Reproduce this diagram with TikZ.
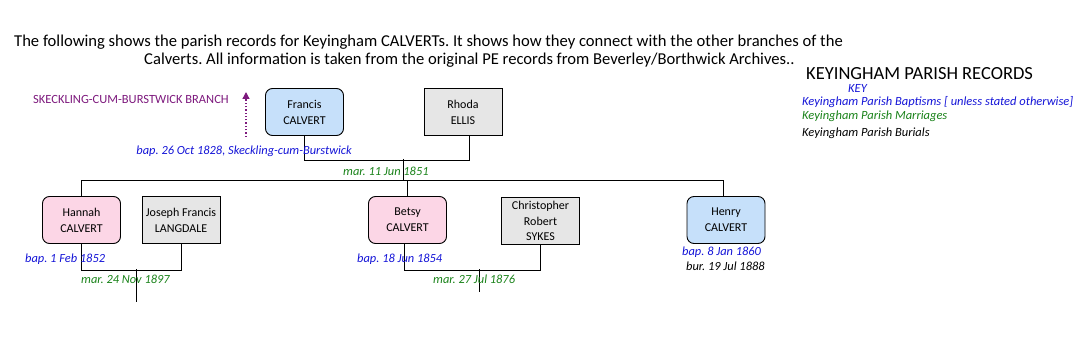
\documentclass[tikz,border=0pt]{standalone}
\usepackage{fontspec}
\setmainfont{Carlito}
\usetikzlibrary{arrows.meta}
\definecolor{bluetxt}{RGB}{20,20,215}
\definecolor{greentxt}{RGB}{25,130,25}
\definecolor{purp}{RGB}{125,25,125}
\definecolor{pinkfill}{RGB}{252,214,230}
\definecolor{bluefill}{RGB}{198,224,250}
\definecolor{grayfill}{RGB}{230,230,230}
\frenchspacing
\begin{document}
\begin{tikzpicture}[x=1pt,y=-1pt,
  person/.style={draw=black, line width=0.9pt, minimum width=78pt, minimum height=47pt,
    align=center, font=\fontsize{12}{16}\selectfont, inner sep=1pt},
  calvm/.style={person, rounded corners=7pt, fill=bluefill},
  calvf/.style={person, rounded corners=7pt, fill=pinkfill},
  spouse/.style={person, fill=grayfill},
  link/.style={draw=black, line width=0.8pt},
  note/.style={inner sep=0pt, font=\fontsize{12.4}{14}\selectfont\itshape},
  bap/.style={note, text=bluetxt},
  mar/.style={note, text=greentxt},
  bur/.style={note, text=black},
  title/.style={inner sep=0pt, font=\fontsize{16.6}{19}\selectfont},
  legend/.style={inner sep=0pt, anchor=west, font=\fontsize{12.5}{14}\selectfont\itshape}
]
\useasboundingbox (0,0) rectangle (1079,358);

% title
\node[title, anchor=west] (t1) at (14,42) {The following shows the parish records for Keyingham CALVERTs. It shows how they connect with the other branches of the};
\node[title, anchor=west] (t2) at (144,60) {Calverts. All information is taken from the original PE records from Beverley/Borthwick Archives..};

% legend
\node[inner sep=0pt, anchor=west, font=\fontsize{18.5}{20}\selectfont] (kt) at (806,74) {KEYINGHAM PARISH RECORDS};
\node[legend, text=bluetxt] (key) at (848,88) {KEY};
\node[legend, text=bluetxt] (lb) at (802,102) {Keyingham Parish Baptisms [ unless stated otherwise]};
\node[legend, text=greentxt] (lm) at (802,116) {Keyingham Parish Marriages};
\node[legend, text=black] (lu) at (802,133) {Keyingham Parish Burials};

% branch
\node[inner sep=0pt, anchor=west, text=purp, font=\fontsize{12.5}{14}\selectfont] (branch) at (33,99) {SKECKLING-CUM-BURSTWICK BRANCH};
\coordinate (arrbot) at (246,137);
\coordinate (arrtop) at (246,92);
\draw[purp, line width=1.3pt, dotted, -{Triangle[width=7pt,length=7pt]}] (arrbot) -- (arrtop);

% people
\node[calvm] (francis) at (304.5,112) {Francis\\CALVERT};
\node[spouse] (rhoda) at (463,112) {Rhoda\\ELLIS};
\node[calvf] (hannah) at (81.5,220) {Hannah\\CALVERT};
\node[spouse, inner sep=0pt] (joseph) at (181,220) {Joseph Francis\\LANGDALE};
\node[calvf] (betsy) at (407.5,220) {Betsy\\CALVERT};
\node[spouse, font=\fontsize{12}{15.5}\selectfont] (chris) at (540.5,221) {Christopher\\Robert\\SYKES};
\node[calvm] (henry) at (726,220) {Henry\\CALVERT};

% connectors
\draw[link] (francis.south) -- ++(0,24) -| ([xshift=6pt]rhoda.south);
\coordinate (m1) at (403,159);
\coordinate (bar) at (403,181);
\draw[link] (m1) -- (bar);
\draw[link] (hannah.north) -- ++(0,-16) -| ([xshift=-3pt]henry.north);
\draw[link] (betsy.north) -- (betsy.north |- bar);

\draw[link] (hannah.south) -- ++(0,26) -| (joseph.south);
\coordinate (m2) at (136,269);
\coordinate (c2) at (136,302);
\draw[link] (m2) -- (c2);

\draw[link] ([xshift=-3.5pt]betsy.south) -- ++(0,26) -| (chris.south);
\coordinate (m3) at (479,269);
\coordinate (c3) at (479,292);
\draw[link] (m3) -- (c3);

% records
\node[bap, anchor=east] (fb) at (352,151) {bap. 26 Oct 1828, Skeckling-cum-Burstwick};
\node[mar, anchor=west] (fm) at (343,171) {mar. 11 Jun 1851};
\node[bap, anchor=west] (hb) at (25,259) {bap. 1 Feb 1852};
\node[mar, anchor=west] (hm) at (81,279) {mar. 24 Nov 1897};
\node[bap, anchor=west] (bb) at (357,259) {bap. 18 Jun 1854};
\node[mar, anchor=west] (bm) at (433,279) {mar. 27 Jul 1876};
\node[bap, anchor=west] (enb) at (682,252) {bap. 8 Jan 1860};
\node[bur, anchor=west] (enu) at (686,266) {bur. 19 Jul 1888};
\end{tikzpicture}
\end{document}
